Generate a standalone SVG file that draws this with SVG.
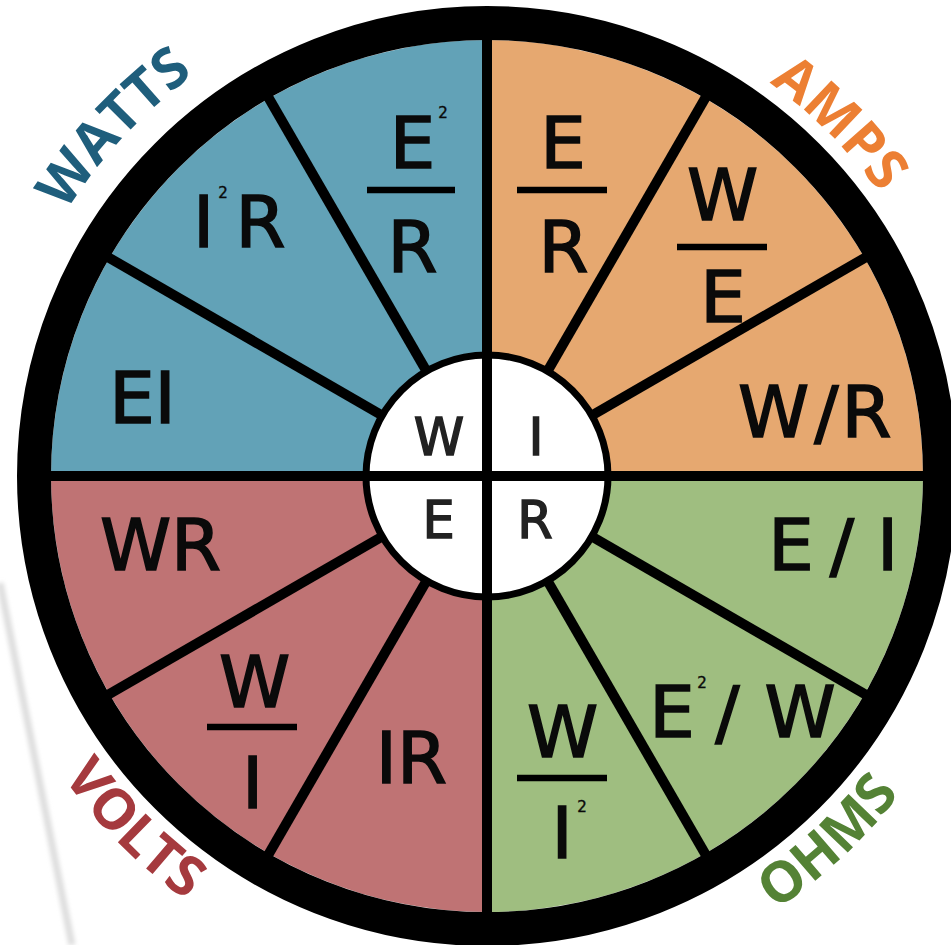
<svg xmlns="http://www.w3.org/2000/svg" width="951" height="945" viewBox="0 0 951 945">
<style>
.f{font-family:"DejaVu Sans","Liberation Sans",sans-serif;font-size:72px;fill:#0a0a0a;stroke:#0a0a0a;stroke-width:1.6;text-anchor:middle}
.s{font-family:"DejaVu Sans","Liberation Sans",sans-serif;font-size:15px;fill:#0a0a0a;stroke:#0a0a0a;stroke-width:0.4;text-anchor:middle}
.c{font-family:"DejaVu Sans","Liberation Sans",sans-serif;font-size:51px;fill:#222;stroke:#222;stroke-width:1.5;text-anchor:middle}
.t{font-family:"Open Sans","Liberation Sans",sans-serif;font-size:56px;font-weight:bold;text-anchor:middle}
.bar{stroke:#000;stroke-width:6.5}
.div{stroke:#000;stroke-width:10;fill:none}
</style>
<defs>
<filter id="blur" x="-50%" y="-10%" width="200%" height="120%"><feGaussianBlur stdDeviation="2"/></filter>
<path id="pW" d="M -2.4 389.7 A 497 497 0 0 1 366.8 -6.2"/>
<path id="pA" d="M 587.6 2.6 A 484 484 0 0 1 960.4 375.4"/>
<path id="pV" d="M -21.6 584.1 A 520 520 0 0 0 378.9 984.6"/>
<path id="pO" d="M 577.5 989.1 A 521 521 0 0 0 992.5 602"/>
</defs>
<rect width="951" height="945" fill="#fff"/>
<line x1="0" y1="583" x2="72" y2="945" stroke="#dedede" stroke-width="7" filter="url(#blur)"/>
<g id="sectors">
<path d="M487,476 L51,476 A436,436 0 0 1 487,40 Z" fill="#62A2B7"/>
<path d="M487,476 L487,40 A436,436 0 0 1 923,476 Z" fill="#E6A870"/>
<path d="M487,476 L923,476 A436,436 0 0 1 487,912 Z" fill="#9FBE80"/>
<path d="M487,476 L487,912 A436,436 0 0 1 51,476 Z" fill="#BF7374"/>
</g>
<g id="connectors">
<line class="div" x1="384.8" y1="417" x2="105.9" y2="256"/>
<line class="div" x1="428" y1="373.8" x2="267" y2="94.9"/>
<line class="div" x1="546" y1="373.8" x2="707" y2="94.9"/>
<line class="div" x1="589.2" y1="417" x2="868.1" y2="256"/>
<line class="div" x1="589.2" y1="535" x2="868.1" y2="696"/>
<line class="div" x1="546" y1="578.2" x2="707" y2="857.1"/>
<line class="div" x1="428" y1="578.2" x2="267" y2="857.1"/>
<line class="div" x1="384.8" y1="535" x2="105.9" y2="696"/>
</g>
<g id="hub">
<circle cx="487" cy="476" r="121" fill="#fff" stroke="#000" stroke-width="7"/>
<line class="div" x1="487" y1="40" x2="487" y2="912"/>
<line class="div" x1="51" y1="476" x2="923" y2="476"/>
<text class="c" x="439" y="455">W</text>
<text class="c" x="536" y="455">I</text>
<text class="c" x="438.5" y="538">E</text>
<text class="c" x="535" y="538">R</text>
</g>
<g id="ring"><circle cx="487" cy="476" r="453" fill="none" stroke="#000" stroke-width="34"/></g>
<g id="watts">
<text class="f" x="412.5" y="168">E</text><text class="s" x="443" y="118">2</text>
<line class="bar" x1="367" y1="190" x2="455" y2="190"/>
<text class="f" x="412.5" y="272">R</text>
<text class="f" x="203.5" y="247">I</text><text class="s" x="223" y="198">2</text>
<text class="f" x="260.5" y="247">R</text>
<text class="f" x="142.5" y="423">EI</text>
<text class="t" fill="#1F5E7C"><textPath href="#pW" startOffset="50%">WATTS</textPath></text>
</g>
<g id="amps">
<text class="f" x="563" y="168">E</text>
<line class="bar" x1="517" y1="190" x2="607" y2="190"/>
<text class="f" x="563.5" y="272">R</text>
<text class="f" x="722.5" y="220">W</text>
<line class="bar" x1="677" y1="247" x2="767" y2="247"/>
<text class="f" x="723" y="322">E</text>
<text class="f" x="773.5" y="437">W</text><text class="f" x="826.5" y="437">/</text><text class="f" x="866.5" y="437">R</text>
<text class="t" fill="#EC7F33"><textPath href="#pA" startOffset="50%">AMPS</textPath></text>
</g>
<g id="volts">
<text class="f" x="160.5" y="570">WR</text>
<text class="f" x="254.5" y="707">W</text>
<line class="bar" x1="207" y1="727" x2="297" y2="727"/>
<text class="f" x="252.5" y="808">I</text>
<text class="f" x="411.5" y="783">IR</text>
<text class="t" fill="#A53A3E"><textPath href="#pV" startOffset="50%">VOLTS</textPath></text>
</g>
<g id="ohms">
<text class="f" x="791" y="570">E</text><text class="f" x="842" y="570">/</text><text class="f" x="887.5" y="570">I</text>
<text class="f" x="672" y="737">E</text><text class="s" x="702" y="688">2</text><text class="f" x="727.5" y="737">/</text><text class="f" x="800" y="737">W</text>
<text class="f" x="562.5" y="757">W</text>
<line class="bar" x1="517" y1="778" x2="607" y2="778"/>
<text class="f" x="562" y="858">I</text><text class="s" x="582" y="812">2</text>
<text class="t" fill="#548235"><textPath href="#pO" startOffset="50%">OHMS</textPath></text>
</g>
</svg>
